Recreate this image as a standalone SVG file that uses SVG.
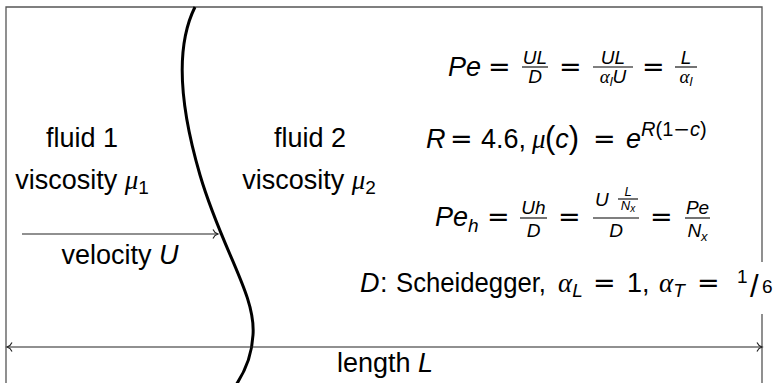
<svg xmlns="http://www.w3.org/2000/svg" width="784" height="383" viewBox="0 0 784 383">
<style>
.t{font-family:"Liberation Sans",Arial,sans-serif;font-size:27px;fill:#000}
.i{font-style:italic}
.g{font-family:"Liberation Serif","Times New Roman",serif;font-style:italic}
.op{font-family:"DejaVu Sans",sans-serif}
.f{font-size:19px}
.ff{font-size:13px}
.sl{font-size:31px}
.bar{stroke:#000;stroke-width:1.1}
.frame{fill:none;stroke:#555;stroke-width:1.3}
.conn{fill:none;stroke:#222;stroke-width:1.2}
</style>
<defs>
<marker id="to" markerUnits="userSpaceOnUse" markerWidth="12" markerHeight="12" viewBox="-6 -6 12 12" refX="0" refY="0" orient="auto-start-reverse">
<path d="M-5,-4.5 C-4,-2 -1.5,-0.5 0,0 C-1.5,0.5 -4,2 -5,4.5" fill="none" stroke="#222" stroke-width="1.1"/>
</marker>
</defs>
<rect width="784" height="383" fill="#fff"/>
<g id="frame">
<path class="frame" d="M6,390 V7 H762 V390"/>
</g>
<g id="interface">
<path d="M195,7 C176,45 178,100 200,175 C222,250 256,295 253,335 C252,355 246,370 236,385" fill="none" stroke="#000" stroke-width="3"/>
</g>
<g id="connectors">
<path class="conn" d="M22,234 H218" marker-end="url(#to)" stroke="#555"/>
<path class="conn" d="M7,347 H762" marker-start="url(#to)" marker-end="url(#to)"/>
</g>
<g id="fluid1">
<text class="t" x="82" y="147" text-anchor="middle">fluid 1</text>
<text class="t" x="82" y="189" text-anchor="middle">viscosity <tspan class="g">μ</tspan><tspan class="f" dy="5">1</tspan></text>
</g>
<g id="fluid2">
<text class="t" x="310" y="147" text-anchor="middle">fluid 2</text>
<text class="t" x="309" y="189" text-anchor="middle">viscosity <tspan class="g">μ</tspan><tspan class="f" dy="5">2</tspan></text>
</g>
<g id="velocity">
<text class="t" x="120" y="264" text-anchor="middle">velocity <tspan class="i">U</tspan></text>
</g>
<g id="length">
<text class="t" x="385" y="372" text-anchor="middle">length <tspan class="i">L</tspan></text>
</g>
<g id="eq-pe">
<text class="t i" x="448" y="76">Pe</text>
<text class="t op" x="488" y="76">=</text>
<text class="t i f" x="535" y="64" text-anchor="middle">UL</text>
<line class="bar" x1="522" y1="67" x2="548" y2="67"/>
<text class="t i f" x="535" y="83" text-anchor="middle">D</text>
<text class="t op" x="559" y="76">=</text>
<text class="t i f" x="613" y="64" text-anchor="middle">UL</text>
<line class="bar" x1="593" y1="67" x2="633" y2="67"/>
<text class="t f" x="613" y="83" text-anchor="middle"><tspan class="g">α</tspan><tspan class="i ff" dy="3">l</tspan><tspan class="i" dy="-3">U</tspan></text>
<text class="t op" x="642" y="76">=</text>
<text class="t i f" x="686" y="64" text-anchor="middle">L</text>
<line class="bar" x1="675" y1="67" x2="697" y2="67"/>
<text class="t f" x="686" y="83" text-anchor="middle"><tspan class="g">α</tspan><tspan class="i ff" dy="3">l</tspan></text>
</g>
<g id="eq-mu">
<text class="t" y="148"><tspan class="i" x="426">R</tspan><tspan class="op" x="450">=</tspan><tspan x="481">4.6,</tspan><tspan class="g" x="532">μ</tspan><tspan x="545" font-size="31">(</tspan><tspan class="i">c</tspan><tspan font-size="31">)</tspan><tspan class="op" x="593">=</tspan><tspan class="i" x="626">e</tspan><tspan class="i" font-size="20" dy="-12">R</tspan><tspan font-size="20">(1</tspan><tspan font-size="20" class="op">−</tspan><tspan font-size="20" class="i">c</tspan><tspan font-size="20">)</tspan></text>
</g>
<g id="eq-peh">
<text class="t" y="226"><tspan class="i" x="435">Pe</tspan><tspan class="i f" dy="6">h</tspan></text>
<text class="t op" x="487" y="226">=</text>
<text class="t i f" x="533.5" y="214" text-anchor="middle">Uh</text>
<line class="bar" x1="520" y1="218" x2="547" y2="218"/>
<text class="t i f" x="533.5" y="237" text-anchor="middle">D</text>
<text class="t op" x="558" y="226">=</text>
<text class="t i f" x="595" y="206">U</text>
<text class="t i ff" x="628" y="196" text-anchor="middle">L</text>
<line class="bar" x1="618" y1="199" x2="638" y2="199" stroke-width="0.9"/>
<text class="t i ff" x="628" y="210" text-anchor="middle">N<tspan font-size="10" dy="2">x</tspan></text>
<line class="bar" x1="593" y1="218" x2="639" y2="218"/>
<text class="t i f" x="616" y="237" text-anchor="middle">D</text>
<text class="t op" x="650" y="226">=</text>
<text class="t i f" x="697.5" y="214" text-anchor="middle">Pe</text>
<line class="bar" x1="685" y1="218" x2="710" y2="218"/>
<text class="t i f" x="697.5" y="237" text-anchor="middle">N<tspan class="ff" dy="4">x</tspan></text>
</g>
<g id="eq-d">
<rect x="356" y="262" width="436" height="52" fill="#fff"/>
<text class="t i" x="360" y="292">D</text>
<text class="t" x="380" y="292">:</text>
<text class="t" x="396" y="292" textLength="150" lengthAdjust="spacingAndGlyphs">Scheidegger,</text>
<text class="t" y="292"><tspan class="g" x="558">α</tspan><tspan class="i f" dy="5">L</tspan></text>
<text class="t op" x="593" y="292">=</text>
<text class="t" x="627" y="292">1,</text>
<text class="t" y="292"><tspan class="g" x="659">α</tspan><tspan class="i f" dy="5">T</tspan></text>
<text class="t op" x="697" y="292">=</text>
<text class="t f" x="737" y="283">1</text>
<text class="t sl" x="750" y="297">/</text>
<text class="t f" x="762" y="293">6</text>
</g>
</svg>
